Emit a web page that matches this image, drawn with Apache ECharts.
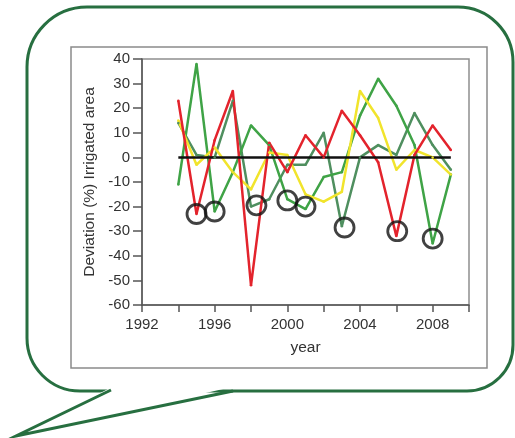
<!DOCTYPE html>
<html>
<head>
<meta charset="utf-8">
<style>
  html, body { margin: 0; padding: 0; background: #fff; }
  #chart { width: 515px; height: 438px; }
</style>
<script src="https://cdn.jsdelivr.net/npm/echarts@6/dist/echarts.min.js"></script>
</head>
<body>
<div id="chart"></div>
<script>
// ---- data ----
var years = [1994, 1995, 1996, 1997, 1998, 1999, 2000, 2001, 2002, 2003, 2004, 2005, 2006, 2007, 2008, 2009];
var redSeries = [23, -23, 7, 27, -52, 6, -6, 9, 0, 19, 9, -2, -32, 1, 13, 3];
var greenSeries = [-11, 38, -22, -6, 13, 5, -17, -21, -8, -6, 17, 32, 21, 5, -35, -7];
var darkGreenSeries = [14, 1, 0, 23, -20, -17, -3, -3, 10, -28, 0, 5, 1, 18, 5, -5];
var yellowSeries = [15, -3, 4, -6, -13, 2, 1, -15, -18, -14, 27, 16, -5, 3, 0, -7];
var circleMarks = [[1995, -23], [1996, -22], [1998.3, -19.5], [2000, -17.5], [2001, -20], [2003.15, -28.5], [2006.05, -30], [2008, -33]];
var yTicks = [-60, -50, -40, -30, -20, -10, 0, 10, 20, 30, 40];
var xLabelYears = [1992, 1996, 2000, 2004, 2008];

function pairs(vals) { return years.map(function (y, i) { return [y, vals[i]]; }); }
var zeroLine = [[years[0], 0], [years[years.length - 1], 0]];

var chart = echarts.init(document.getElementById('chart'), null, { renderer: 'canvas' });
var font = 'Liberation Sans, Arial, sans-serif';

function lineSeries(data, color) {
  return {
    type: 'line', data: pairs(data), symbol: 'circle', symbolSize: 2.5,
    itemStyle: { color: color }, lineStyle: { color: color, width: 2.5 },
    silent: true, animation: false
  };
}

chart.setOption({
  animation: false,
  backgroundColor: '#fff',
  graphic: [
    {
      type: 'rect', z: -10,
      shape: { x: 27, y: 7, width: 486, height: 384, r: [60, 55, 46, 53] },
      style: { fill: '#fff', stroke: '#276f40', lineWidth: 3 }
    },
    {
      type: 'polygon', z: -9,
      shape: { points: [[112, 387], [16, 436], [232, 387]] },
      style: { fill: '#fff', stroke: null }
    },
    {
      type: 'polyline', z: -8,
      shape: { points: [[111, 390], [16, 436], [233, 391]] },
      style: { fill: null, stroke: '#276f40', lineWidth: 3 }
    },
    {
      type: 'rect', z: -7,
      shape: { x: 71, y: 47, width: 416, height: 321 },
      style: { fill: '#fff', stroke: '#8a8a8a', lineWidth: 1.5 }
    }
  ],
  grid: {
    left: 142, top: 59, right: 46, bottom: 133,
    show: true, borderColor: '#8f8f8f', borderWidth: 1.5, backgroundColor: 'transparent'
  },
  xAxis: {
    type: 'value', min: 1992, max: 2010, interval: 2,
    name: 'year', nameLocation: 'middle', nameGap: 35,
    nameTextStyle: { fontFamily: font, fontSize: 15.5, color: '#333' },
    axisLine: { onZero: false, lineStyle: { color: '#555', width: 1.5 } },
    axisTick: { show: true, inside: false, length: 7, lineStyle: { color: '#555', width: 1.5 } },
    axisLabel: {
      margin: 12, fontFamily: font, fontSize: 15, color: '#333',
      formatter: function (v) { return xLabelYears.indexOf(v) >= 0 ? String(v) : ''; }
    },
    splitLine: { show: false }
  },
  yAxis: {
    type: 'value', min: yTicks[0], max: yTicks[yTicks.length - 1], interval: 10,
    name: 'Deviation (%) Irrigated area', nameLocation: 'middle', nameGap: 43,
    nameTextStyle: { fontFamily: font, fontSize: 15.5, color: '#333' },
    axisLine: { show: true, onZero: false, lineStyle: { color: '#555', width: 1.5 } },
    axisTick: { show: true, inside: false, length: 9, lineStyle: { color: '#555', width: 1.5 } },
    axisLabel: { margin: 12, fontFamily: font, fontSize: 15, color: '#333' },
    splitLine: { show: false }
  },
  series: [
    lineSeries(darkGreenSeries, '#4f8f5f'),
    lineSeries(greenSeries, '#3fa346'),
    lineSeries(yellowSeries, '#f1e42c'),
    lineSeries(redSeries, '#e3232c'),
    {
      type: 'line', data: zeroLine, symbol: 'none',
      lineStyle: { color: '#111', width: 2.5 }, silent: true
    },
    {
      type: 'scatter', data: circleMarks, symbol: 'circle', symbolSize: 19,
      itemStyle: { color: 'rgba(0,0,0,0)', borderColor: '#111', borderWidth: 2.8 },
      silent: true, z: 5
    }
  ]
});
</script>
</body>
</html>
